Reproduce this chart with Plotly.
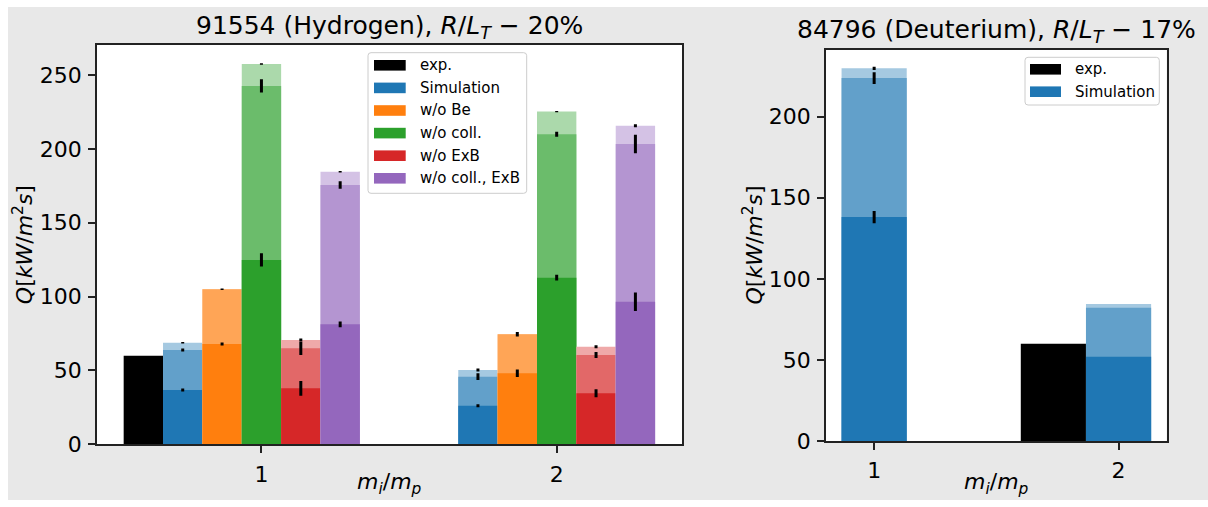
import plotly.graph_objects as go

W, H = 1208, 500   # figure size (page window is 1208x507)

# ---------------- data ----------------
groups = [1, 2]
names_left = ["exp.", "Simulation", "w/o Be", "w/o coll.", "w/o ExB", "w/o coll., ExB"]
names_right = ["exp.", "Simulation"]

# Left panel: 91554 (Hydrogen)
exp_left = [60.0, None]
sim_lo = [36.8, 26.1]
sim_md = [63.8, 45.8]
sim_hi = [68.8, 50.3]
sim_lo_err = [1.0, 1.0]
sim_md_err = [1.0, 2.3]
sim_hi_err = [0.5, 1.0]

be_lo = [67.9, 48.1]
be_md = [104.9, 74.5]
be_hi = [104.9, 74.5]
be_lo_err = [1.0, 2.5]
be_md_err = [0.5, 1.5]
be_hi_err = [0.0, 0.0]

coll_lo = [124.8, 112.8]
coll_md = [242.6, 209.9]
coll_hi = [257.4, 225.2]
coll_lo_err = [4.5, 2.0]
coll_md_err = [4.5, 1.7]
coll_hi_err = [0.5, 0.5]

exb_lo = [37.9, 34.5]
exb_md = [65.0, 60.5]
exb_hi = [70.6, 66.1]
exb_lo_err = [5.0, 2.7]
exb_md_err = [4.5, 2.0]
exb_hi_err = [1.0, 1.0]

cexb_lo = [81.2, 96.5]
cexb_md = [175.5, 203.3]
cexb_hi = [184.5, 215.7]
cexb_lo_err = [2.0, 6.2]
cexb_md_err = [2.5, 6.2]
cexb_hi_err = [0.5, 1.0]

# Right panel: 84796 (Deuterium)
exp_right = [None, 60.0]
simr_lo = [138.1, 52.0]
simr_md = [223.8, 82.2]
simr_hi = [229.8, 84.5]
simr_lo_err = [3.8, 0.0]
simr_md_err = [3.6, 0.0]
simr_hi_err = [1.0, 0.0]

left_yticks = [0, 50, 100, 150, 200, 250]
right_yticks = [0, 50, 100, 150, 200]

# ---------------- style ----------------
BLACK = "#000000"
TAB = ["#1f77b4", "#ff7f0e", "#2ca02c", "#d62728", "#9467bd"]
FONT = "DejaVu Sans"


def blend(hexcol, a):
    h = hexcol.lstrip("#")
    r, g, b = (int(h[i:i + 2], 16) for i in (0, 2, 4))
    r, g, b = (round(255 - (255 - c) * a) for c in (r, g, b))
    return f"rgb({r},{g},{b})"


def px_x(px):
    return px / W


def px_y(py):
    return 1 - py / H


fig = go.Figure()


def add_bar(xs, ys, width, color, errs, xa, ya):
    fig.add_trace(go.Bar(
        x=xs, y=ys, width=width,
        marker=dict(color=color, line=dict(width=0)),
        error_y=dict(type="data", array=errs, visible=True, color="black",
                     thickness=3, width=0),
        xaxis=xa, yaxis=ya, showlegend=False, hoverinfo="skip"))


# Left panel bars
wl = 0.8 / 6
left_pos = [[g + (k - 3) * wl for g in groups] for k in range(6)]
add_bar(left_pos[0], exp_left, wl, BLACK, [0, 0], "x", "y")
left_series = [
    (sim_lo, sim_md, sim_hi, sim_lo_err, sim_md_err, sim_hi_err),
    (be_lo, be_md, be_hi, be_lo_err, be_md_err, be_hi_err),
    (coll_lo, coll_md, coll_hi, coll_lo_err, coll_md_err, coll_hi_err),
    (exb_lo, exb_md, exb_hi, exb_lo_err, exb_md_err, exb_hi_err),
    (cexb_lo, cexb_md, cexb_hi, cexb_lo_err, cexb_md_err, cexb_hi_err),
]
for i, (lo, md, hi, elo, emd, ehi) in enumerate(left_series):
    xs = left_pos[i + 1]
    c = TAB[i]
    add_bar(xs, hi, wl, blend(c, 0.4), ehi, "x", "y")
    add_bar(xs, md, wl, blend(c, 0.7), emd, "x", "y")
    add_bar(xs, lo, wl, c, elo, "x", "y")

# Right panel bars
wr = 0.8 / 3
right_pos = [[g + (k - 1) * wr for g in groups] for k in range(2)]
add_bar(right_pos[0], exp_right, wr, BLACK, [0, 0], "x2", "y2")
add_bar(right_pos[1], simr_hi, wr, blend(TAB[0], 0.4), simr_hi_err, "x2", "y2")
add_bar(right_pos[1], simr_md, wr, blend(TAB[0], 0.7), simr_md_err, "x2", "y2")
add_bar(right_pos[1], simr_lo, wr, TAB[0], simr_lo_err, "x2", "y2")

axis_common = dict(
    showline=True, linecolor="#222222", linewidth=1.6, mirror=True,
    ticks="outside", ticklen=7, tickwidth=1.5, tickcolor="#222222",
    showgrid=False, zeroline=False, fixedrange=True, automargin=False,
    tickfont=dict(family=FONT, size=22, color="black"),
)

fig.update_layout(
    width=W, height=H,
    margin=dict(l=0, r=0, t=0, b=0, autoexpand=False),
    paper_bgcolor="#e8e8e8",
    plot_bgcolor="white",
    barmode="overlay",
    showlegend=False,
    font=dict(family=FONT, color="black"),
    xaxis=dict(domain=[px_x(97), px_x(682.3)], range=[0.443, 2.4255],
               tickvals=groups, ticktext=[str(g) for g in groups], anchor="y",
               ticklabelstandoff=2, **axis_common),
    yaxis=dict(domain=[px_y(444.3), px_y(45)], range=[0, 270.3],
               tickvals=left_yticks, anchor="x", ticklabelstandoff=2, **axis_common),
    xaxis2=dict(domain=[px_x(826), px_x(1166.7)], range=[0.803, 2.197],
                tickvals=groups, ticktext=[str(g) for g in groups], anchor="y2",
                ticklabelstandoff=2, **axis_common),
    yaxis2=dict(domain=[px_y(441), px_y(50)], range=[0, 241.1],
                tickvals=right_yticks, anchor="x2", ticklabelstandoff=2, **axis_common),
)

annotations = []
shapes = []

# white strips at top and left of the picture
shapes.append(dict(type="rect", xref="paper", yref="paper", x0=0, x1=1,
                   y0=px_y(7), y1=1, fillcolor="white", line=dict(width=0), layer="above"))
shapes.append(dict(type="rect", xref="paper", yref="paper", x0=0, x1=px_x(8),
                   y0=0, y1=1, fillcolor="white", line=dict(width=0), layer="above"))

# Titles
title_math = "<i>R</i>/<i>L</i><sub><i>T</i></sub> − "
for cx, cy, txt in [(389.6, 27, "91554 (Hydrogen), " + title_math + "20%"),
                    (996, 31, "84796 (Deuterium), " + title_math + "17%")]:
    annotations.append(dict(text=txt, x=px_x(cx), y=px_y(cy), xref="paper", yref="paper",
                            xanchor="center", yanchor="middle", showarrow=False,
                            font=dict(family=FONT, size=25, color="black")))

# Axis labels
xlab = "<i>m</i><sub><i>i</i></sub>/<i>m</i><sub><i>p</i></sub>"
ylab = "<i>Q</i>[<i>kW</i>/<i>m</i><sup>2</sup><i>s</i>]"
for cx in (389.6, 996):
    annotations.append(dict(text=xlab, x=px_x(cx), y=px_y(499.5), xref="paper", yref="paper",
                            xanchor="center", yanchor="bottom", showarrow=False,
                            font=dict(family=FONT, size=22, color="black")))
for cx, cy in ((22.5, 244.7), (752, 245.5)):
    annotations.append(dict(text=ylab, x=px_x(cx), y=px_y(cy), xref="paper", yref="paper",
                            xanchor="center", yanchor="middle", showarrow=False, textangle=-90,
                            font=dict(family=FONT, size=22, color="black")))


# Custom legends (matplotlib style)
def rounded_rect(x0, y0, x1, y1, r):
    rx, ry = r / W, r / H
    X0, X1 = px_x(x0), px_x(x1)
    Y0, Y1 = px_y(y0), px_y(y1)  # Y0 top, Y1 bottom (paper)
    return (f"M{X0 + rx},{Y0} L{X1 - rx},{Y0} Q{X1},{Y0} {X1},{Y0 - ry} "
            f"L{X1},{Y1 + ry} Q{X1},{Y1} {X1 - rx},{Y1} L{X0 + rx},{Y1} "
            f"Q{X0},{Y1} {X0},{Y1 + ry} L{X0},{Y0 - ry} Q{X0},{Y0} {X0 + rx},{Y0} Z")


def add_legend(box, row0, dy, sw_x0, sw_x1, tx, labels, colors):
    shapes.append(dict(type="path", xref="paper", yref="paper",
                       path=rounded_rect(*box, 3), fillcolor="rgba(255,255,255,0.8)",
                       line=dict(color="#cccccc", width=1), layer="above"))
    for i, (lab, col) in enumerate(zip(labels, colors)):
        cy = row0 + i * dy
        shapes.append(dict(type="rect", xref="paper", yref="paper",
                           x0=px_x(sw_x0), x1=px_x(sw_x1), y0=px_y(cy + 5.3), y1=px_y(cy - 5.3),
                           fillcolor=col, line=dict(width=0), layer="above"))
        annotations.append(dict(text=lab, x=px_x(tx), y=px_y(cy), xref="paper", yref="paper",
                                xanchor="left", yanchor="middle", showarrow=False,
                                font=dict(family=FONT, size=15, color="black")))


add_legend((368, 52.7, 526.7, 193.3), 65.3, 22.6, 374, 405.7, 418.3,
           names_left, [BLACK] + TAB)
add_legend((1025, 57.3, 1159.3, 105), 69.3, 22.4, 1030, 1061, 1072.7,
           names_right, [BLACK, TAB[0]])

fig.update_layout(annotations=annotations, shapes=shapes)

fig.write_html("out.html")
